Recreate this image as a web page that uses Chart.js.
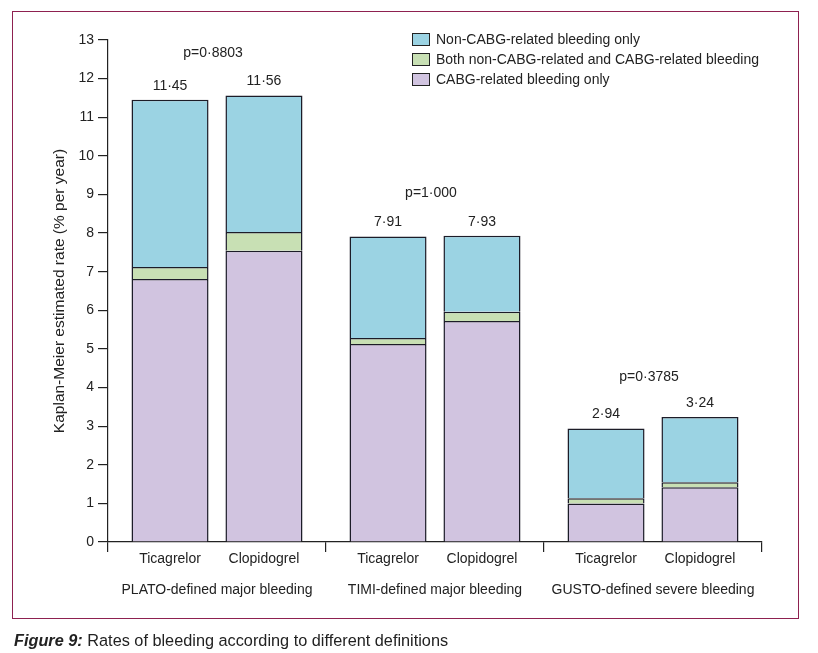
<!DOCTYPE html>
<html><head><meta charset="utf-8">
<script src="https://cdn.jsdelivr.net/npm/chart.js@4/dist/chart.umd.min.js"></script>
<style>
html,body{margin:0;padding:0;background:#fff;}
#wrap{position:relative;width:818px;height:653px;font-family:"Liberation Sans",Arial,sans-serif;color:#222;}
#frame{position:absolute;left:12px;top:11px;width:787px;height:608px;border:1px solid #8e2150;box-sizing:border-box;}
#chartBox{position:absolute;left:0;top:0;width:818px;height:653px;}
#legend{position:absolute;left:412px;top:29px;font-size:14px;color:#222;}
.li{display:flex;align-items:center;height:20px;white-space:nowrap;}
.sw{width:16px;height:11px;border:1px solid #222;margin-right:6px;}
#caption{position:absolute;left:14px;top:631px;font-size:16.3px;color:#222;white-space:nowrap;}
#caption b{font-style:italic;}
</style></head>
<body>
<div id="wrap">
<div id="frame"></div>
<div id="chartBox"><canvas id="c" width="818" height="653"></canvas></div>
<div id="legend"></div>
<div id="caption"><b>Figure 9:</b> Rates of bleeding according to different definitions</div>
</div>
<script>
// ---- data ----
const categories = ['PLATO-defined major bleeding', 'TIMI-defined major bleeding', 'GUSTO-defined severe bleeding'];
const drugs = ['Ticagrelor', 'Clopidogrel'];
const seriesNames = ['CABG-related bleeding only', 'Both non-CABG-related and CABG-related bleeding', 'Non-CABG-related bleeding only'];
const seriesColors = ['#d1c4e0', '#c8e0b4', '#9bd3e3'];
const cabgOnlyTicagrelor = [6.81, 5.13, 1.00];
const cabgOnlyClopidogrel = [7.54, 5.72, 1.42];
const bothTicagrelor = [0.31, 0.15, 0.13];
const bothClopidogrel = [0.49, 0.24, 0.13];
const nonCabgTicagrelor = [4.33, 2.63, 1.81];
const nonCabgClopidogrel = [3.53, 1.97, 1.69];
const totalTicagrelor = ['11·45', '7·91', '2·94'];
const totalClopidogrel = ['11·56', '7·93', '3·24'];
const pValues = ['p=0·8803', 'p=1·000', 'p=0·3785'];
const pLabelLevel = [12.66, 9.04, 4.28];
const yTicks = [0,1,2,3,4,5,6,7,8,9,10,11,12,13];

const seriesByDrug = {
  Ticagrelor: [cabgOnlyTicagrelor, bothTicagrelor, nonCabgTicagrelor],
  Clopidogrel: [cabgOnlyClopidogrel, bothClopidogrel, nonCabgClopidogrel]
};
const totalsByDrug = { Ticagrelor: totalTicagrelor, Clopidogrel: totalClopidogrel };

const FONT = '"Liberation Sans", Arial, sans-serif';
const INK = '#222';

const datasets = [];
drugs.forEach(d => {
  seriesByDrug[d].forEach((vals, si) => {
    datasets.push({
      label: seriesNames[si], data: vals, stack: d,
      backgroundColor: seriesColors[si], borderColor: '#1c1c28', borderWidth: 1.5,
      categoryPercentage: 0.862, barPercentage: 0.82
    });
  });
});

// legend (HTML)
const lg = document.getElementById('legend');
[2,1,0].forEach(si => {
  const row = document.createElement('div'); row.className = 'li';
  const sw = document.createElement('span'); sw.className = 'sw'; sw.style.background = seriesColors[si];
  const tx = document.createElement('span'); tx.textContent = seriesNames[si];
  row.appendChild(sw); row.appendChild(tx); lg.appendChild(row);
});

const labelPlugin = {
  id: 'labels',
  afterDraw(chart) {
    const ctx = chart.ctx, ys = chart.scales.y, xs = chart.scales.x;
    ctx.save();
    ctx.font = '14px ' + FONT; ctx.fillStyle = INK;
    ctx.textAlign = 'center'; ctx.textBaseline = 'middle';
    drugs.forEach((d, di) => {
      const meta = chart.getDatasetMeta(di * 3 + 2);
      meta.data.forEach((bar, i) => {
        ctx.fillText(totalsByDrug[d][i], bar.x, bar.y - 14);
        ctx.fillText(d, bar.x, xs.top + 17);
      });
    });
    categories.forEach((c, i) => {
      ctx.fillText(pValues[i], xs.getPixelForValue(i) - 4, ys.getPixelForValue(pLabelLevel[i]));
    });
    ctx.restore();
  }
};

new Chart(document.getElementById('c'), {
  type: 'bar',
  data: { labels: categories, datasets },
  plugins: [labelPlugin],
  options: {
    responsive: false, animation: false, events: [],
    layout: { padding: { left: 48, right: 56, top: 40, bottom: 31 } },
    plugins: { legend: { display: false }, tooltip: { enabled: false } },
    scales: {
      x: {
        stacked: true, offset: true,
        grid: { offset: true, drawOnChartArea: false, tickLength: 10, color: INK, lineWidth: 1.2 },
        border: { color: INK, width: 1.2 },
        ticks: { color: INK, font: { family: FONT, size: 14 }, padding: 30, maxRotation: 0 },
        afterFit(s) { s.height = 80; }
      },
      y: {
        stacked: true, min: 0, max: 13,
        afterBuildTicks(s) { s.ticks = yTicks.map(v => ({ value: v })); },
        grid: { drawOnChartArea: false, tickLength: 10, color: INK, lineWidth: 1.2 },
        border: { color: INK, width: 1.2 },
        ticks: { color: INK, font: { family: FONT, size: 14 }, padding: 4 },
        title: { display: true, text: 'Kaplan-Meier estimated rate (% per year)', color: INK, font: { family: FONT, size: 15.5 }, padding: { top: 2, bottom: 4 } },
        afterFit(s) { s.width = 60; }
      }
    }
  }
});
</script>
</body></html>
